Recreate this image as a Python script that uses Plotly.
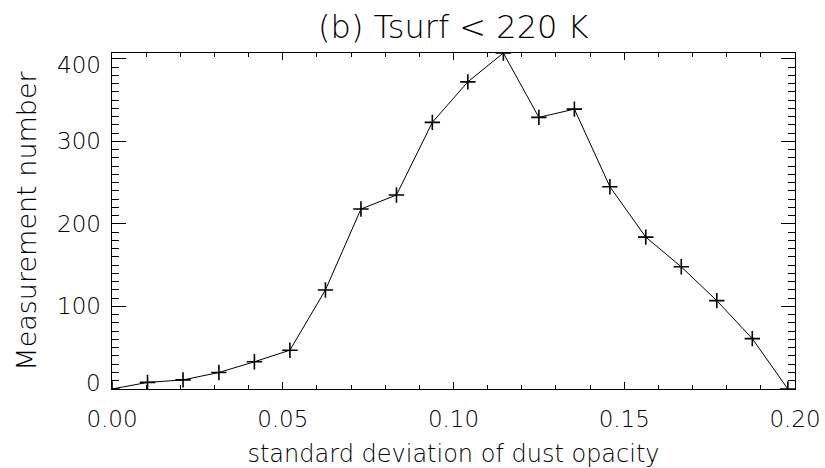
import plotly.graph_objects as go

# Histogram of the standard deviation of dust opacity (cold surfaces)
std_dev = [0.0000, 0.0104, 0.0208, 0.0313, 0.0417, 0.0521, 0.0625, 0.0729,
           0.0833, 0.0938, 0.1042, 0.1146, 0.1250, 0.1354, 0.1458, 0.1563,
           0.1667, 0.1771, 0.1875, 0.1979]
counts = [0, 8, 11, 20, 33, 47, 120, 218, 235, 323, 372, 407, 329, 339,
          245, 184, 148, 107, 61, 0]

x_ticks = [0.00, 0.05, 0.10, 0.15, 0.20]
x_tick_text = ["0.00", "0.05", "0.10", "0.15", "0.20"]
y_ticks = [0, 100, 200, 300, 400]
y_tick_text = ["0", "100", "200", "300", "400"]

FONT = "DejaVu Sans"
INK = "black"

fig = go.Figure()
fig.add_trace(go.Scatter(
    x=std_dev, y=counts,
    mode="lines+markers",
    line=dict(color="black", width=1),
    marker=dict(symbol="cross-thin", size=11,
                line=dict(color="black", width=1.6)),
    showlegend=False,
))

# y tick labels; the end labels sit inside the frame height
shifts = {0: 6, 400: -6}
annotations = []
for v, t in zip(y_ticks, y_tick_text):
    annotations.append(dict(
        x=0, xref="paper", y=v, yref="y", text=t, showarrow=False,
        xanchor="right", yanchor="middle", xshift=-9, yshift=shifts.get(v, 0),
        font=dict(family=FONT, size=23, color=INK, weight=200),
    ))

fig.update_layout(
    width=825, height=468,
    margin=dict(l=112, r=30, t=53, b=79),
    paper_bgcolor="white", plot_bgcolor="white",
    title=dict(text="(b) Tsurf < 220 K", x=0.5495, xanchor="center",
               y=1 - 27 / 468, yanchor="middle", yref="container",
               font=dict(family=FONT, size=32, color=INK, weight=200)),
    annotations=annotations,
)

fig.update_xaxes(
    range=[0, 0.2], tickvals=x_ticks, ticktext=x_tick_text,
    ticks="inside", ticklen=7, tickwidth=1, tickcolor="black",
    minor=dict(dtick=0.01, tick0=0, ticks="inside", ticklen=4,
               tickwidth=1, tickcolor="black", showgrid=False),
    showline=True, linecolor="black", linewidth=1, mirror="allticks",
    showgrid=False, zeroline=False, automargin=False,
    tickfont=dict(family=FONT, size=23, color=INK, weight=200),
    ticklabelstandoff=9,
    title=dict(text="standard deviation of dust opacity", standoff=17,
               font=dict(family=FONT, size=24, color=INK, weight=200)),
)

fig.update_yaxes(
    range=[0, 407], tickvals=y_ticks, showticklabels=False,
    ticks="inside", ticklen=14, tickwidth=1, tickcolor="black",
    minor=dict(dtick=10, tick0=0, ticks="inside", ticklen=7,
               tickwidth=1, tickcolor="black", showgrid=False),
    showline=True, linecolor="black", linewidth=1, mirror="allticks",
    showgrid=False, zeroline=False, automargin=False,
    title=dict(text="Measurement number", standoff=66,
               font=dict(family=FONT, size=27, color=INK, weight=200)),
)

fig.write_html("out.html")
